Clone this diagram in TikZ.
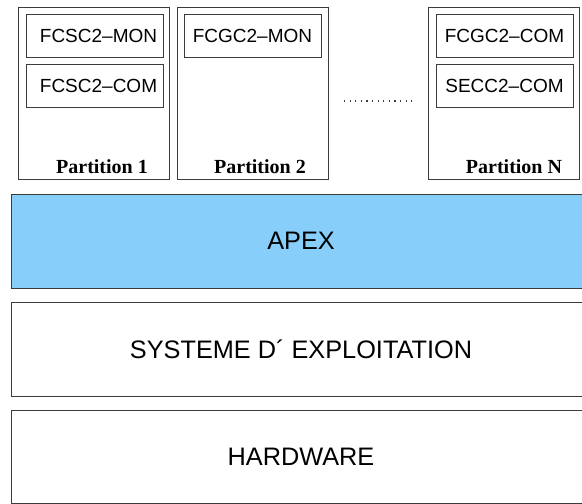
\documentclass[tikz,border=0pt]{standalone}
\usepackage{fontspec}
\setmainfont{Liberation Serif}
\setsansfont{Liberation Sans}
\definecolor{apexblue}{RGB}{135,206,250}
\definecolor{edgecol}{RGB}{60,60,60}
\begin{document}
\begin{tikzpicture}[x=1pt,y=-1pt,
  box/.style={draw=edgecol, line width=1pt, inner sep=0pt, outer sep=0pt},
  part/.style={box, minimum width=151pt, minimum height=172pt},
  inbox/.style={box, minimum width=137pt, minimum height=43pt, font=\sffamily\fontsize{19}{19}\selectfont},
  layer/.style={box, minimum width=580pt, minimum height=94pt, font=\sffamily\fontsize{25.3}{25}\selectfont},
  plabel/.style={font=\rmfamily\bfseries\fontsize{20}{20}\selectfont, anchor=base, inner sep=0pt}]
\useasboundingbox (0,0) rectangle (582,504);
\fill[white] (0,0) rectangle (582,504);
% partitions
\node[part] (p1) at (93.5,93) {};
\node[part] (p2) at (252.5,93) {};
\node[part] (pN) at (503.5,93) {};
% inner boxes
\node[inbox] (p1mon) at (94.5,35.5) {\hspace*{8pt}FCSC2–MON};
\node[inbox] (p1com) at (94.5,86) {\hspace*{8pt}FCSC2–COM};
\node[inbox] (p2mon) at (252.5,35.5) {FCGC2–MON};
\node[inbox] (pNcom) at (504.5,35.5) {FCGC2–COM};
\node[inbox] (pNsec) at (504.5,86) {SECC2–COM};
% partition labels
\node[plabel] (l1) at (102,173) {Partition 1};
\node[plabel] (l2) at (260,173) {Partition 2};
\node[plabel] (lN) at (514,173) {Partition N};
% dots
\coordinate (d1) at (344,101);
\coordinate (d2) at (415,101);
\draw[edgecol, line width=1.2pt, dash pattern=on 1.2pt off 4.4pt] (d1) -- (d2);
% layers
\node[layer, fill=apexblue] (apex) at (301,241) {APEX};
\node[layer] (os) at (301,349) {SYSTEME D´ EXPLOITATION};
\node[layer, minimum height=93pt] (hw) at (301,456.5) {HARDWARE};
\end{tikzpicture}
\end{document}
